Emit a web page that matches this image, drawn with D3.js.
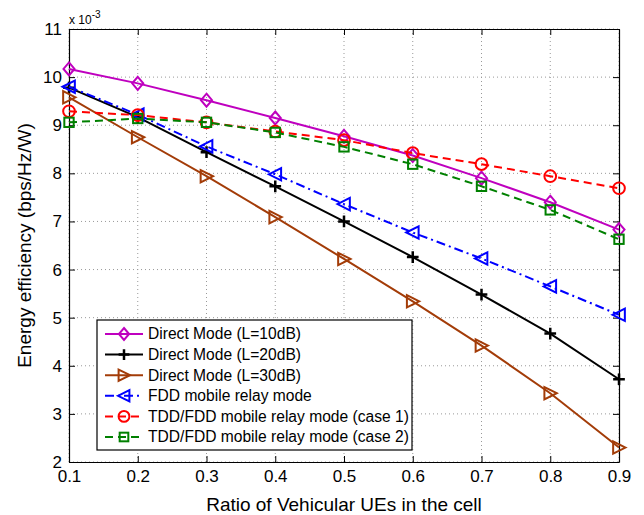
<!DOCTYPE html>
<html>
<head>
<meta charset="utf-8">
<script src="https://cdn.jsdelivr.net/npm/d3@7"></script>
<style>
  body { margin: 0; background: #fff; }
  text { font-family: "Liberation Sans", Arial, sans-serif; fill: #000; }
</style>
</head>
<body>
<div id="chart"></div>
<script>
const ratios = [0.1, 0.2, 0.3, 0.4, 0.5, 0.6, 0.7, 0.8, 0.9];
const yTicks = [2, 3, 4, 5, 6, 7, 8, 9, 10, 11];

const direct10 = [10.17, 9.87, 9.52, 9.15, 8.77, 8.37, 7.9, 7.4, 6.83];
const direct20 = [9.78, 9.17, 8.44, 7.73, 7.0, 6.26, 5.48, 4.67, 3.72];
const direct30 = [9.58, 8.75, 7.94, 7.09, 6.22, 5.34, 4.42, 3.43, 2.3];
const fddRelay = [9.8, 9.22, 8.56, 7.98, 7.36, 6.77, 6.23, 5.65, 5.06];
const tddCase1 = [9.29, 9.21, 9.06, 8.87, 8.69, 8.42, 8.19, 7.94, 7.69];
const tddCase2 = [9.06, 9.14, 9.06, 8.85, 8.55, 8.19, 7.73, 7.24, 6.63];

const series = [
  {name: 'Direct Mode (L=10dB)', values: direct10, color: '#bf00bf', dash: null, marker: 'diamond'},
  {name: 'Direct Mode (L=20dB)', values: direct20, color: '#000000', dash: null, marker: 'plus'},
  {name: 'Direct Mode (L=30dB)', values: direct30, color: '#a33c08', dash: null, marker: 'triRight'},
  {name: 'FDD mobile relay mode', values: fddRelay, color: '#0000ff', dash: '9,4,2,4', marker: 'triLeft'},
  {name: 'TDD/FDD mobile relay mode (case 1)', values: tddCase1, color: '#ff0000', dash: '8,5', marker: 'circle'},
  {name: 'TDD/FDD mobile relay mode (case 2)', values: tddCase2, color: '#008000', dash: '8,5', marker: 'square'}
];

const W = 644, H = 515;
const margin = {top: 29, right: 25, bottom: 53, left: 69};
const width = W - margin.left - margin.right;
const height = H - margin.top - margin.bottom;

const svg = d3.select('#chart').append('svg')
    .attr('width', W)
    .attr('height', H);

const g = svg.append('g')
    .attr('transform', `translate(${margin.left},${margin.top})`);

const x = d3.scaleLinear().domain([0.1, 0.9]).range([0, width]);
const y = d3.scaleLinear().domain([2, 11]).range([height, 0]);

// grid
g.selectAll('.vgrid')
    .data(ratios)
    .enter()
    .append('line')
    .attr('x1', d => x(d)).attr('x2', d => x(d))
    .attr('y1', 0).attr('y2', height)
    .attr('stroke', '#999').attr('stroke-width', 1)
    .attr('stroke-dasharray', '1,3');

g.selectAll('.hgrid')
    .data(yTicks)
    .enter()
    .append('line')
    .attr('x1', 0).attr('x2', width)
    .attr('y1', d => y(d)).attr('y2', d => y(d))
    .attr('stroke', '#999').attr('stroke-width', 1)
    .attr('stroke-dasharray', '1,3');

// axes with inward ticks
const xAxis = g.append('g')
    .attr('transform', `translate(0,${height})`)
    .call(d3.axisBottom(x).tickValues(ratios).tickFormat(d3.format('.1f')).tickSizeInner(-6).tickSizeOuter(0).tickPadding(8));
const xTop = g.append('g')
    .call(d3.axisTop(x).tickValues(ratios).tickFormat('').tickSizeInner(-6).tickSizeOuter(0));
const yAxis = g.append('g')
    .call(d3.axisLeft(y).tickValues(yTicks).tickFormat(d3.format('d')).tickSizeInner(-6).tickSizeOuter(0).tickPadding(7));
const yRight = g.append('g')
    .attr('transform', `translate(${width},0)`)
    .call(d3.axisRight(y).tickValues(yTicks).tickFormat('').tickSizeInner(-6).tickSizeOuter(0));

[xAxis, xTop, yAxis, yRight].forEach(a => {
    a.select('.domain').attr('stroke', '#000').attr('stroke-width', 1.2);
    a.selectAll('.tick line').attr('stroke', '#000');
    a.selectAll('.tick text').style('font-size', '17px').style('font-family', '"Liberation Sans", Arial, sans-serif');
});

// lines
const line = d3.line()
    .x((d, i) => x(ratios[i]))
    .y(d => y(d));

function drawMarker(sel, type, color, s) {
    if (type === 'diamond') {
        sel.append('path').attr('d', `M0,${-s}L${s * 0.85},0L0,${s}L${-s * 0.85},0Z`)
            .attr('fill', 'none').attr('stroke', color).attr('stroke-width', 2);
    } else if (type === 'plus') {
        sel.append('path').attr('d', `M${-s * 0.9},0H${s * 0.9}M0,${-s * 0.9}V${s * 0.9}`)
            .attr('stroke', color).attr('stroke-width', 2.5);
    } else if (type === 'triRight') {
        sel.append('path').attr('d', `M${s},0L${-s * 0.9},${-s * 0.95}L${-s * 0.9},${s * 0.95}Z`)
            .attr('fill', 'none').attr('stroke', color).attr('stroke-width', 2);
    } else if (type === 'triLeft') {
        sel.append('path').attr('d', `M${-s},0L${s * 0.9},${-s * 0.95}L${s * 0.9},${s * 0.95}Z`)
            .attr('fill', 'none').attr('stroke', color).attr('stroke-width', 2);
    } else if (type === 'circle') {
        sel.append('circle').attr('r', s * 0.9)
            .attr('fill', 'none').attr('stroke', color).attr('stroke-width', 2);
    } else if (type === 'square') {
        sel.append('rect').attr('x', -s * 0.72).attr('y', -s * 0.72)
            .attr('width', s * 1.44).attr('height', s * 1.44)
            .attr('fill', 'none').attr('stroke', color).attr('stroke-width', 2);
    }
}

series.forEach(s => {
    g.append('path')
        .datum(s.values)
        .attr('fill', 'none')
        .attr('stroke', s.color)
        .attr('stroke-width', 2)
        .attr('stroke-dasharray', s.dash)
        .attr('d', line);

    s.values.forEach((v, i) => {
        const m = g.append('g').attr('transform', `translate(${x(ratios[i])},${y(v)})`);
        drawMarker(m, s.marker, s.color, 6.5);
    });
});

// legend
const legend = g.append('g')
    .attr('transform', `translate(${97 - margin.left},${320 - margin.top})`);

legend.append('rect')
    .attr('width', 315)
    .attr('height', 130)
    .attr('fill', '#fff')
    .attr('stroke', '#000')
    .attr('stroke-width', 1.2);

series.forEach((s, i) => {
    const row = legend.append('g').attr('transform', `translate(0,${14 + i * 20.6})`);
    row.append('line')
        .attr('x1', 8).attr('x2', 46)
        .attr('stroke', s.color).attr('stroke-width', 2)
        .attr('stroke-dasharray', s.dash);
    const m = row.append('g').attr('transform', 'translate(27,0)');
    drawMarker(m, s.marker, s.color, 6);
    row.append('text')
        .attr('x', 51)
        .attr('dy', '.35em')
        .style('font-size', '15.6px')
        .text(s.name);
});

// axis titles
svg.append('text')
    .attr('text-anchor', 'middle')
    .attr('x', margin.left + width / 2)
    .attr('y', 511)
    .style('font-size', '19px')
    .text('Ratio of Vehicular UEs in the cell');

svg.append('text')
    .attr('text-anchor', 'middle')
    .attr('transform', `translate(31,${margin.top + height / 2}) rotate(-90)`)
    .style('font-size', '19px')
    .text('Energy efficiency (bps/Hz/W)');

// exponent label
const expo = svg.append('text')
    .attr('x', 69)
    .attr('y', 24)
    .style('font-size', '12px');
expo.append('tspan').text('x 10');
expo.append('tspan').attr('dy', -6).style('font-size', '10px').text('-3');
</script>
</body>
</html>
